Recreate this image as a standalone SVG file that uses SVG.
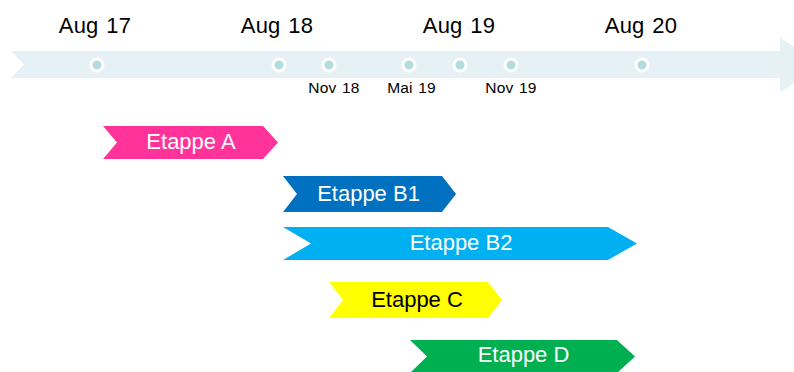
<svg xmlns="http://www.w3.org/2000/svg" width="794" height="372" viewBox="0 0 794 372">
<style>
.big{font-family:"Liberation Sans",Arial,sans-serif;font-size:22px;fill:#000;text-anchor:middle;word-spacing:1.5px;letter-spacing:0.2px}
.small{font-family:"Liberation Sans",Arial,sans-serif;font-size:15.5px;fill:#000;text-anchor:middle;word-spacing:1px;letter-spacing:0.2px}
.lbl{font-family:"Liberation Sans",Arial,sans-serif;font-size:22px;text-anchor:middle}
.dot{fill:#B4DCE0;stroke:#fff;stroke-width:3}
</style>
<rect width="794" height="372" fill="#fff"/>
<g id="timeline">
<polygon points="11,51 780,51 780,38 824,64.5 780,92 780,78 11,78 24,64.5" fill="#E5F1F4"/>
<circle class="dot" cx="97" cy="65" r="6"/>
<circle class="dot" cx="279" cy="65" r="6"/>
<circle class="dot" cx="329" cy="65" r="6"/>
<circle class="dot" cx="409" cy="65" r="6"/>
<circle class="dot" cx="460" cy="65" r="6"/>
<circle class="dot" cx="511" cy="65" r="6"/>
<circle class="dot" cx="642" cy="65" r="6"/>
<text class="big" x="95" y="33">Aug 17</text>
<text class="big" x="277" y="33">Aug 18</text>
<text class="big" x="459" y="33">Aug 19</text>
<text class="big" x="641" y="33">Aug 20</text>
<text class="small" x="334" y="93">Nov 18</text>
<text class="small" x="411.5" y="93">Mai 19</text>
<text class="small" x="511" y="93">Nov 19</text>
</g>
<g id="etappe-a">
<polygon points="103,126 263,126 278,142.5 263,159 103,159 117,142.5" fill="#FF3399"/>
<text class="lbl" x="191" y="149" fill="#fff">Etappe A</text>
</g>
<g id="etappe-b1">
<polygon points="283,176 442,176 456,194 442,212 283,212 297,194" fill="#0070C0"/>
<text class="lbl" x="368.5" y="201" fill="#fff">Etappe B1</text>
</g>
<g id="etappe-b2">
<polygon points="283,227 608,227 637,243.5 608,260 283,260 311,243.5" fill="#00B0F0"/>
<text class="lbl" x="461" y="250" fill="#fff">Etappe B2</text>
</g>
<g id="etappe-c">
<polygon points="329,282 488,282 502,300 488,318 329,318 343,300" fill="#FFFF00"/>
<text class="lbl" x="417" y="307" fill="#000">Etappe C</text>
</g>
<g id="etappe-d">
<polygon points="410,340 617,340 635,356.5 617,373 410,373 427,356.5" fill="#00B050"/>
<text class="lbl" x="523.5" y="362" fill="#fff">Etappe D</text>
</g>
<g id="connectors"></g>
</svg>
